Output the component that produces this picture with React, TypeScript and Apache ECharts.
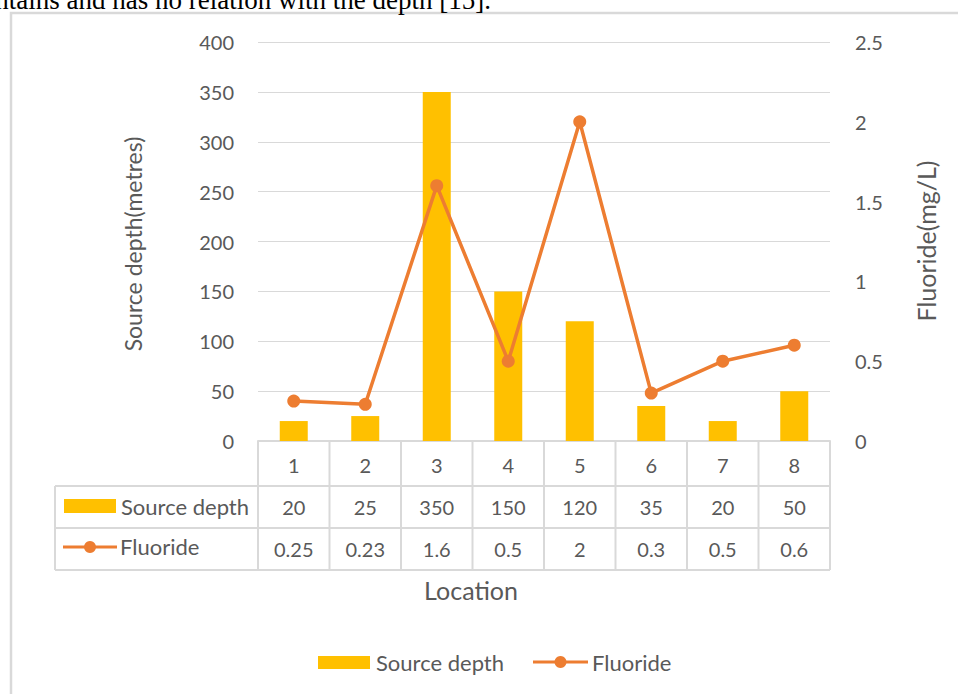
import React, { useEffect, useRef } from "react";
import * as echarts from "echarts";

const categories = ["1", "2", "3", "4", "5", "6", "7", "8"];
const sourceDepth = [20, 25, 350, 150, 120, 35, 20, 50];
const fluoride = [0.25, 0.23, 1.6, 0.5, 2, 0.3, 0.5, 0.6];
const fluorideText = ["0.25", "0.23", "1.6", "0.5", "2", "0.3", "0.5", "0.6"];
const seriesNames = ["Source depth", "Fluoride"];

const W = 958;
const H = 694;
const GL = 258;
const GR = 830;
const GT = 42;
const GB = 441;
const FONT = "Lato";
const TXT = "#595959";
const GRID = "#D9D9D9";
const BAR = "#FFC000";
const LINE = "#ED7D31";

export default function App() {
  const ref = useRef<HTMLDivElement>(null);
  useEffect(() => {
    document.body.style.margin = "0";
    const chart = echarts.init(ref.current!, null, { renderer: "svg" });
    const cw = (GR - GL) / categories.length;
    const rows = [GB, 486, 528, 570];
    const tableLeft = 55;
    const g: any[] = [];
    g.push({
      type: "rect",
      shape: { x: 11, y: 13, width: 1200, height: 1200 },
      style: { fill: "none", stroke: GRID, lineWidth: 2.5 },
      silent: true,
    });
    g.push({
      type: "text",
      x: 491,
      y: -14,
      style: {
        text: "contains and has no relation with the depth [15].",
        font: "27px 'Liberation Serif'",
        fill: "#000",
        align: "right",
        verticalAlign: "top",
      },
    });
    for (let i = 1; i < rows.length; i++) {
      g.push({
        type: "line",
        shape: { x1: tableLeft, y1: rows[i], x2: GR, y2: rows[i] },
        style: { stroke: GRID, lineWidth: 2 },
      });
    }
    for (let i = 0; i <= categories.length; i++) {
      const x = GL + i * cw;
      g.push({
        type: "line",
        shape: { x1: x, y1: GB, x2: x, y2: rows[3] },
        style: { stroke: GRID, lineWidth: 2 },
      });
    }
    g.push({
      type: "line",
      shape: { x1: tableLeft, y1: rows[1], x2: tableLeft, y2: rows[3] },
      style: { stroke: GRID, lineWidth: 2 },
    });
    categories.forEach((_, i) => {
      const cx = GL + (i + 0.5) * cw;
      g.push({
        type: "text",
        x: cx,
        y: (rows[1] + rows[2]) / 2,
        style: { text: String(sourceDepth[i]), font: `20px ${FONT}`, fill: TXT, align: "center", verticalAlign: "middle" },
      });
      g.push({
        type: "text",
        x: cx,
        y: (rows[2] + rows[3]) / 2,
        style: { text: fluorideText[i], font: `20px ${FONT}`, fill: TXT, align: "center", verticalAlign: "middle" },
      });
    });
    g.push({ type: "rect", shape: { x: 64, y: 499, width: 52, height: 14 }, style: { fill: BAR } });
    g.push({
      type: "text",
      x: 121,
      y: (rows[1] + rows[2]) / 2 - 1,
      style: { text: seriesNames[0], font: `22px ${FONT}`, fill: TXT, align: "left", verticalAlign: "middle" },
    });
    g.push({ type: "line", shape: { x1: 63, y1: 547, x2: 117, y2: 547 }, style: { stroke: LINE, lineWidth: 3 } });
    g.push({ type: "circle", shape: { cx: 90, cy: 547, r: 6 }, style: { fill: LINE } });
    g.push({
      type: "text",
      x: 120,
      y: (rows[2] + rows[3]) / 2 - 3,
      style: { text: seriesNames[1], font: `22px ${FONT}`, fill: TXT, align: "left", verticalAlign: "middle" },
    });
    g.push({
      type: "text",
      x: 133,
      y: 244,
      rotation: Math.PI / 2,
      style: { text: "Source depth(metres)", font: `23px ${FONT}`, fill: TXT, align: "center", verticalAlign: "middle" },
    });
    g.push({
      type: "text",
      x: 926,
      y: 241,
      rotation: Math.PI / 2,
      style: { text: "Fluoride(mg/L)", font: `25px ${FONT}`, fill: TXT, align: "center", verticalAlign: "middle" },
    });
    g.push({
      type: "text",
      x: 471,
      y: 590,
      style: { text: "Location", font: `25px ${FONT}`, fill: TXT, align: "center", verticalAlign: "middle" },
    });
    g.push({ type: "rect", shape: { x: 318, y: 656, width: 52, height: 13 }, style: { fill: BAR } });
    g.push({
      type: "text",
      x: 376,
      y: 662,
      style: { text: seriesNames[0], font: `22px ${FONT}`, fill: TXT, align: "left", verticalAlign: "middle" },
    });
    g.push({ type: "line", shape: { x1: 533, y1: 662, x2: 588, y2: 662 }, style: { stroke: LINE, lineWidth: 3 } });
    g.push({ type: "circle", shape: { cx: 560.5, cy: 662, r: 6 }, style: { fill: LINE } });
    g.push({
      type: "text",
      x: 592,
      y: 662,
      style: { text: seriesNames[1], font: `22px ${FONT}`, fill: TXT, align: "left", verticalAlign: "middle" },
    });

    chart.setOption({
      animation: false,
      backgroundColor: "#fff",
      textStyle: { fontFamily: FONT },
      grid: { left: GL, right: W - GR, top: GT, bottom: H - GB, containLabel: false },
      xAxis: {
        type: "category",
        data: categories,
        axisLine: { show: true, lineStyle: { color: GRID, width: 2 } },
        axisTick: { show: false },
        axisLabel: { color: TXT, fontSize: 20, fontFamily: FONT, margin: 14 },
      },
      yAxis: [
        {
          type: "value",
          min: 0,
          max: 400,
          interval: 50,
          axisLine: { show: false },
          axisTick: { show: false },
          splitLine: { lineStyle: { color: GRID, width: 1 } },
          axisLabel: { color: TXT, fontSize: 20, fontFamily: FONT, margin: 24 },
        },
        {
          type: "value",
          min: 0,
          max: 2.5,
          interval: 0.5,
          position: "right",
          axisLine: { show: false },
          axisTick: { show: false },
          splitLine: { show: false },
          axisLabel: { color: TXT, fontSize: 20, fontFamily: FONT, margin: 25 },
        },
      ],
      series: [
        {
          name: seriesNames[0],
          type: "bar",
          data: sourceDepth,
          barWidth: 28,
          itemStyle: { color: BAR },
          yAxisIndex: 0,
        },
        {
          name: seriesNames[1],
          type: "line",
          data: fluoride,
          yAxisIndex: 1,
          symbol: "circle",
          symbolSize: 13,
          lineStyle: { color: LINE, width: 3.5 },
          itemStyle: { color: LINE },
          z: 5,
        },
      ],
      graphic: g,
    });
    return () => chart.dispose();
  }, []);
  return <div ref={ref} style={{ position: "fixed", left: 0, top: 0, width: W, height: H }} />;
}
